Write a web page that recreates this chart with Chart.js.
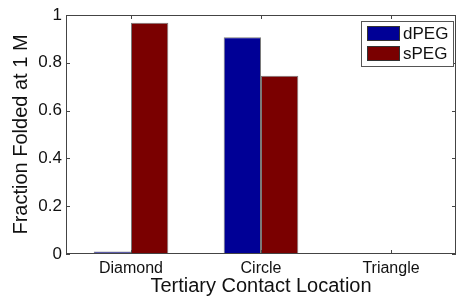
<!DOCTYPE html>
<html>
<head>
<meta charset="utf-8">
<script src="https://cdn.jsdelivr.net/npm/chart.js@4"></script>
<style>
  html, body { margin: 0; padding: 0; background: #fff; }
  #wrap { width: 458px; height: 298px; }
</style>
</head>
<body>
<div id="wrap"><canvas id="barChart"></canvas></div>
<script>
// chart data
const categories = ['Diamond', 'Circle', 'Triangle'];
const dPEG = [0.01, 0.907, 0];
const sPEG = [0.968, 0.746, 0];
const yTicks = [0, 0.2, 0.4, 0.6, 0.8, 1];

const COLORS = {
    blue: '#000096',
    red: '#7A0000',
    axis: '#444444',
    text: '#111111'
};

Chart.defaults.font.family = "'Liberation Sans', Arial, sans-serif";
Chart.defaults.color = COLORS.text;

// matlab style box, inward ticks and boxed legend
const matlabFrame = {
    id: 'matlabFrame',
    afterDraw(chart) {
        const { ctx, chartArea: a, scales } = chart;
        ctx.save();
        ctx.strokeStyle = COLORS.axis;
        ctx.lineWidth = 1;
        ctx.strokeRect(a.left + 0.5, a.top + 0.5, a.right - a.left - 1, a.bottom - a.top - 1);

        ctx.beginPath();
        yTicks.forEach(v => {
            const y = Math.round(scales.y.getPixelForValue(v)) + 0.5;
            ctx.moveTo(a.left, y); ctx.lineTo(a.left + 4, y);
            ctx.moveTo(a.right, y); ctx.lineTo(a.right - 4, y);
        });
        categories.forEach((c, i) => {
            const x = Math.round(scales.x.getPixelForValue(i)) + 0.5;
            ctx.moveTo(x, a.bottom); ctx.lineTo(x, a.bottom - 4);
            ctx.moveTo(x, a.top); ctx.lineTo(x, a.top + 4);
        });
        ctx.stroke();

        // legend
        const lx = 361, ly = 21, lw = 92, lh = 45;
        ctx.fillStyle = '#fff';
        ctx.fillRect(lx, ly, lw, lh);
        ctx.strokeStyle = '#555';
        ctx.strokeRect(lx + 0.5, ly + 0.5, lw, lh);
        ctx.font = "17px 'Liberation Sans', Arial, sans-serif";
        ctx.textBaseline = 'middle';
        chart.data.datasets.forEach((ds, i) => {
            const sy = ly + 5 + i * 20;
            ctx.fillStyle = ds.backgroundColor;
            ctx.fillRect(lx + 6, sy, 33, 15);
            ctx.strokeStyle = '#333';
            ctx.strokeRect(lx + 6.5, sy + 0.5, 32, 14);
            ctx.fillStyle = COLORS.text;
            ctx.fillText(ds.label, lx + 42, sy + 8);
        });
        ctx.restore();
    }
};

new Chart(document.getElementById('barChart').getContext('2d'), {
    type: 'bar',
    data: {
        labels: categories,
        datasets: [
            { label: 'dPEG', data: dPEG, backgroundColor: COLORS.blue, borderColor: '#7a7a7a', borderWidth: 1 },
            { label: 'sPEG', data: sPEG, backgroundColor: COLORS.red, borderColor: '#7a7a7a', borderWidth: 1 }
        ]
    },
    options: {
        responsive: true, maintainAspectRatio: false, animation: false,
        layout: { padding: { top: 15, right: 2, left: 0, bottom: 0 } },
        datasets: { bar: { categoryPercentage: 0.574, barPercentage: 1 } },
        scales: {
            x: {
                grid: { display: false, drawTicks: false },
                border: { display: false },
                ticks: { font: { size: 16 }, padding: 5, maxRotation: 0 },
                title: { display: true, text: 'Tertiary Contact Location', font: { size: 20 }, padding: { top: 0, bottom: 0 } },
                afterFit: s => { s.height = 44; }
            },
            y: {
                min: 0, max: 1,
                grid: { display: false, drawTicks: false },
                border: { display: false },
                afterBuildTicks: s => { s.ticks = yTicks.map(v => ({ value: v })); },
                ticks: { font: { size: 17 }, padding: 4, callback: v => String(v) },
                title: { display: true, text: 'Fraction Folded at 1 M', font: { size: 20 }, padding: { top: 9, bottom: 0 } },
                afterFit: s => { s.width = 66; }
            }
        },
        plugins: { legend: { display: false }, tooltip: { enabled: false } }
    },
    plugins: [matlabFrame]
});
</script>
</body>
</html>
